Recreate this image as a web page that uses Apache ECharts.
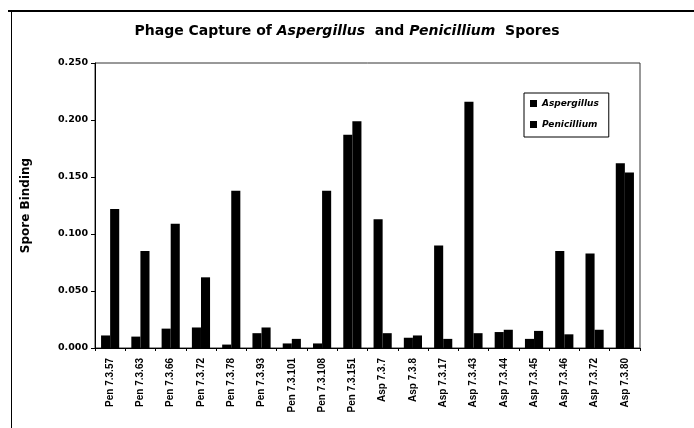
<!DOCTYPE html>
<html>
<head>
<meta charset="utf-8">
<script src="https://cdn.jsdelivr.net/npm/echarts@6/dist/echarts.min.js"></script>
<style>
  html, body { margin: 0; padding: 0; background: #fff; }
  #chart { width: 694px; height: 428px; }
</style>
</head>
<body>
<div id="chart"></div>
<script>
// Phage clones tested against spores of both fungi
const clones = [
  'Pen 7.3.57', 'Pen 7.3.63', 'Pen 7.3.66', 'Pen 7.3.72', 'Pen 7.3.78',
  'Pen 7.3.93', 'Pen 7.3.101', 'Pen 7.3.108', 'Pen 7.3.151',
  'Asp 7.3.7', 'Asp 7.3.8', 'Asp 7.3.17', 'Asp 7.3.43', 'Asp 7.3.44',
  'Asp 7.3.45', 'Asp 7.3.46', 'Asp 7.3.72', 'Asp 7.3.80'
];
const aspergillus = [
  0.011, 0.010, 0.017, 0.018, 0.003, 0.013, 0.004, 0.004, 0.187,
  0.113, 0.009, 0.090, 0.216, 0.014, 0.008, 0.085, 0.083, 0.162
];
const penicillium = [
  0.122, 0.085, 0.109, 0.062, 0.138, 0.018, 0.008, 0.138, 0.199,
  0.013, 0.011, 0.008, 0.013, 0.016, 0.015, 0.012, 0.016, 0.154
];
const yTicks = { min: 0, max: 0.25, step: 0.05 };

const chart = echarts.init(document.getElementById('chart'), null, { renderer: 'canvas' });
const sans = '"Liberation Sans", Arial, sans-serif';
const wide = '"DejaVu Sans", sans-serif';

chart.setOption({
  backgroundColor: '#fff',
  animation: false,
  title: {
    text: '{n|Phage Capture of }{i|Aspergillus}{n|  and }{i|Penicillium}{n|  Spores}',
    left: 'center',
    top: 19,
    textStyle: {
      rich: {
        n: { fontFamily: wide, fontWeight: 'bold', fontSize: 14, color: '#000' },
        i: { fontFamily: wide, fontWeight: 'bold', fontStyle: 'italic', fontSize: 14, color: '#000' }
      }
    }
  },
  graphic: [
    { type: 'line', shape: { x1: 8, y1: 11, x2: 694, y2: 11 }, style: { stroke: '#000', lineWidth: 2 } },
    { type: 'line', shape: { x1: 11.5, y1: 11, x2: 11.5, y2: 428 }, style: { stroke: '#000', lineWidth: 1 } }
  ],
  legend: {
    orient: 'vertical',
    left: 524,
    top: 93,
    padding: [6, 10, 8, 6],
    itemGap: 12,
    itemWidth: 7,
    itemHeight: 7,
    borderColor: '#000',
    borderWidth: 1,
    backgroundColor: '#fff',
    textStyle: { fontFamily: wide, fontWeight: 'bold', fontStyle: 'italic', fontSize: 9, color: '#000' },
    data: [
      { name: 'Aspergillus', icon: 'rect' },
      { name: 'Penicillium', icon: 'rect' }
    ]
  },
  grid: {
    left: 95, right: 54, top: 63, bottom: 80,
    show: true, borderColor: '#333', borderWidth: 1
  },
  xAxis: {
    type: 'category',
    data: clones,
    axisLine: { lineStyle: { color: '#000', width: 1 } },
    axisTick: { show: true, interval: 0, length: 3, lineStyle: { color: '#000' } },
    axisLabel: {
      interval: 0, rotate: 90, margin: 10,
      fontFamily: sans, fontWeight: 'bold', fontSize: 10, color: '#000'
    }
  },
  yAxis: {
    type: 'value',
    min: yTicks.min, max: yTicks.max, interval: yTicks.step,
    name: 'Spore Binding',
    nameLocation: 'middle',
    nameGap: 63,
    nameTextStyle: { fontFamily: wide, fontWeight: 'bold', fontSize: 12, color: '#000' },
    axisLine: { show: true, lineStyle: { color: '#000', width: 1 } },
    axisTick: { show: true, length: 4, lineStyle: { color: '#000' } },
    splitLine: { show: false },
    axisLabel: {
      margin: 7,
      fontFamily: wide, fontWeight: 'bold', fontSize: 9.5, color: '#000',
      formatter: v => v.toFixed(3)
    }
  },
  series: [
    {
      name: 'Aspergillus', type: 'bar', data: aspergillus,
      itemStyle: { color: '#000' },
      barGap: '0%', barCategoryGap: '40%'
    },
    {
      name: 'Penicillium', type: 'bar', data: penicillium,
      itemStyle: { color: '#000' },
      barGap: '0%', barCategoryGap: '40%'
    }
  ]
});
</script>
</body>
</html>
